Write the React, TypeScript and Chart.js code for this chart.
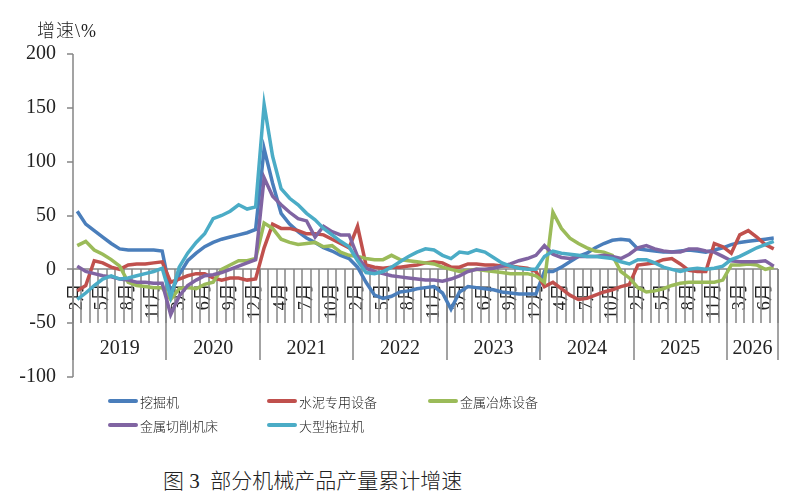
import { useEffect, useRef } from "react";
import { Chart, registerables, Plugin } from "chart.js";

Chart.register(...registerables);

// 累计数据从每年 1-2 月开始（2月），2026 年到 7 月
const years = ["2019", "2020", "2021", "2022", "2023", "2024", "2025", "2026"];
const monthsInYear = [11, 11, 11, 11, 11, 11, 11, 6];
const firstMonth = 2;

const labels: string[] = [];
monthsInYear.forEach((n) => {
  for (let k = 0; k < n; k++) labels.push(`${firstMonth + k}月`);
});

const yTicks = { min: -100, max: 200, step: 50 };

const seriesNames = ["挖掘机", "水泥专用设备", "金属冶炼设备", "金属切削机床", "大型拖拉机"];
const seriesColors = ["#4a7ebb", "#c0504d", "#9bbb59", "#8064a2", "#4bacc6"];

const excavator = [
  54, 42, 36, 30, 24, 19, 18, 18, 18, 18, 17,
  -22, -5, 8, 15, 21, 25, 28, 30, 32, 34, 37,
  112, 80, 52, 42, 35, 29, 25, 20, 17, 13, 10,
  2, -12, -24, -27, -25, -21, -20, -18, -17, -16, -22,
  -37, -21, -16, -17, -18, -19, -21, -22, -23, -23, -23,
  -2, -2, 2, 7, 12, 15, 20, 24, 27, 28, 27,
  19, 18, 17, 16, 16, 17, 18, 17, 16, 18, 20,
  23, 25, 26, 27, 28, 29,
];
const cementEquip = [
  -20, -15, 8, 6, 2, 0, 4, 5, 5, 6, 7,
  -12, -9, -6, -4, -4, -8, -10, -8, -8, -10, -9,
  20, 42, 38, 38, 36, 33, 33, 32, 28, 24, 20,
  40, 4, 2, 1, 2, 2, 3, 4, 6, 7, 6,
  2, 2, 5, 5, 4, 4, 3, 3, 2, 1, -2,
  -16, -12, -18, -24, -28, -27, -24, -21, -19, -16, -14,
  4, 5, 6, 9, 10, 5, -1, -2, -2, 24, 21,
  15, 32, 36, 30, 23, 19,
];
const smeltingEquip = [
  22, 26, 18, 14, 9, 3, -12, -15, -16, -17, -17,
  -28, -18, -17, -18, -14, -12, 0, 4, 8, 8, 10,
  43, 38, 28, 25, 23, 24, 25, 21, 22, 16, 13,
  12, 10, 9, 9, 13, 9, 8, 7, 6, 5, 2,
  0, -2, -1, 0, -1, -2, -3, -4, -4, -4, -6,
  -12, 53, 38, 29, 24, 20, 17, 16, 13, -2, -8,
  -17, -21, -20, -18, -15, -13, -12, -12, -12, -12, -10,
  4, 4, 5, 4, 0, 2,
];
const cuttingTools = [
  3, -2, -4, -6, -7, -9, -10, -12, -12, -13, -13,
  -42, -25, -15, -10, -6, -5, -3, 0, 3, 6, 9,
  85, 68, 60, 53, 47, 45, 30, 40, 35, 32, 32,
  12, 1, -2, -4, -6, -7, -8, -9, -10, -10, -11,
  -9, -6, -2, 0, 0, 1, 3, 5, 8, 10, 13,
  22, 14, 11, 10, 12, 12, 12, 13, 12, 10, 14,
  20, 22, 19, 17, 16, 16, 19, 19, 17, 16, 12,
  8, 7, 7, 7, 8, 3,
];
const tractors = [
  -28, -22, -15, -9, -6, -9, -8, -6, -4, -2, 1,
  -26, 2, 15, 25, 33, 47, 50, 54, 60, 56, 58,
  153, 105, 75, 66, 60, 52, 46, 38, 32, 26, 21,
  8, -3, -4, -2, 2, 7, 12, 16, 19, 18, 13,
  10, 16, 15, 18, 16, 11, 6, 3, 1, 0, 0,
  12, 17, 15, 14, 13, 12, 12, 11, 10, 7, 5,
  9, 9, 6, 2, 0, -2, 0, 1, 0, 1, 3,
  9, 12, 16, 20, 23, 26,
];
const seriesValues = [excavator, cementEquip, smeltingEquip, cuttingTools, tractors];

const axisGray = "#858585";
const serif = '"Liberation Serif", "Noto Sans CJK SC", serif';

// 坐标轴线、月份刻度线、年份分组（长分隔线 + 年份文字），画在折线下面
const axisFrame: Plugin<"line"> = {
  id: "axisFrame",
  beforeDatasetsDraw(chart) {
    const x = chart.scales.x;
    const y = chart.scales.y;
    const area = chart.chartArea;
    const ctx = chart.ctx;
    const y0 = Math.round(y.getPixelForValue(0));
    const half = (x.getPixelForValue(1) - x.getPixelForValue(0)) / 2;
    const ax = Math.round(area.left);

    ctx.save();
    ctx.strokeStyle = axisGray;
    ctx.lineWidth = 1.5;
    ctx.lineCap = "butt";

    // y 轴与刻度
    ctx.beginPath();
    ctx.moveTo(ax, area.top);
    ctx.lineTo(ax, area.bottom);
    y.ticks.forEach((t) => {
      const py = Math.round(y.getPixelForValue(t.value));
      ctx.moveTo(ax - 6, py);
      ctx.lineTo(ax, py);
    });
    ctx.stroke();

    // x 轴（0 处）与每月刻度线
    ctx.beginPath();
    ctx.moveTo(area.left, y0);
    ctx.lineTo(area.right, y0);
    for (let i = 0; i <= labels.length; i++) {
      const px =
        i < labels.length
          ? Math.round(x.getPixelForValue(i) - half)
          : Math.round(x.getPixelForValue(i - 1) + half);
      ctx.moveTo(px, y0);
      ctx.lineTo(px, y0 + 54);
    }
    ctx.stroke();

    // 年份分隔线与年份
    ctx.fillStyle = "#222";
    ctx.font = `20px ${serif}`;
    ctx.textAlign = "center";
    ctx.textBaseline = "middle";
    ctx.beginPath();
    let start = 0;
    years.forEach((yr, i) => {
      const left = x.getPixelForValue(start) - half;
      const right = x.getPixelForValue(start + monthsInYear[i] - 1) + half;
      [left, right].forEach((p) => {
        ctx.moveTo(Math.round(p), y0);
        ctx.lineTo(Math.round(p), y0 + 91);
      });
      ctx.fillText(yr, (left + right) / 2, y0 + 80);
      start += monthsInYear[i];
    });
    ctx.stroke();
    ctx.restore();
  },
};

export default function App() {
  const canvasRef = useRef<HTMLCanvasElement | null>(null);

  useEffect(() => {
    if (canvasRef.current == null) return;

    const chartInstance = new Chart(canvasRef.current, {
      type: "line",
      data: {
        labels: labels,
        datasets: seriesNames.map((name, i) => ({
          label: name,
          data: seriesValues[i],
          borderColor: seriesColors[i],
          backgroundColor: seriesColors[i],
          borderWidth: 3.5,
          pointRadius: 0,
          tension: 0,
          order: seriesNames.length - i,
        })),
      },
      options: {
        responsive: false,
        animation: false,
        layout: { padding: { left: 0, right: 13, top: 54, bottom: 16 } },
        plugins: {
          legend: { display: false },
          tooltip: { enabled: false },
        },
        scales: {
          x: {
            type: "category",
            position: { y: 0 },
            offset: true,
            grid: {
              display: false,
              offset: true,
              drawTicks: true,
              tickLength: 54,
            },
            border: { display: false },
            ticks: {
              autoSkip: false,
              minRotation: 90,
              maxRotation: 90,
              padding: -40,
              color: "#222",
              font: { family: serif, size: 18 },
              callback: (_v, index) => (index % 3 === 0 ? labels[index] : ""),
            },
          },
          y: {
            min: yTicks.min,
            max: yTicks.max,
            afterFit: (scale) => {
              scale.width = 73;
            },
            grid: { display: false, drawTicks: true, tickLength: 5 },
            border: { display: false },
            ticks: {
              stepSize: yTicks.step,
              padding: 12,
              color: "#222",
              font: { family: serif, size: 20 },
            },
          },
        },
      },
      plugins: [axisFrame],
    });

    return () => {
      chartInstance.destroy();
    };
  }, []);

  const legendCols = [108, 267, 428];
  const legendRows = [401, 425];

  return (
    <div
      style={{
        position: "absolute",
        left: 0,
        top: 0,
        width: 791,
        height: 504,
        background: "#fff",
        overflow: "hidden",
      }}
    >
      <canvas
        ref={canvasRef}
        width={791}
        height={401}
        style={{ position: "absolute", left: 0, top: 0, width: 791, height: 401 }}
      ></canvas>
      <div
        style={{
          position: "absolute",
          left: 37,
          top: 16,
          fontSize: 18,
          fontFamily: serif,
          fontWeight: 300,
          letterSpacing: 1,
          color: "#222",
          whiteSpace: "nowrap",
        }}
      >
        增速\%
      </div>
      {seriesNames.map((name, i) => (
        <div
          key={name}
          style={{
            position: "absolute",
            left: legendCols[i % 3],
            top: legendRows[Math.floor(i / 3)] - 9,
            height: 18,
            display: "flex",
            alignItems: "center",
            fontSize: 13,
            fontFamily: '"Noto Sans CJK SC", sans-serif',
            fontWeight: 300,
            color: "#222",
            whiteSpace: "nowrap",
          }}
        >
          <span
            style={{
              display: "inline-block",
              width: 30,
              height: 4,
              borderRadius: 2,
              background: seriesColors[i],
              marginRight: 2,
            }}
          ></span>
          {name}
        </div>
      ))}
      <div
        style={{
          position: "absolute",
          left: 163,
          top: 464,
          fontSize: 21,
          fontFamily: serif,
          fontWeight: 300,
          color: "#222",
          whiteSpace: "pre",
        }}
      >
        {"图 3\u2002部分机械产品产量累计增速"}
      </div>
    </div>
  );
}
